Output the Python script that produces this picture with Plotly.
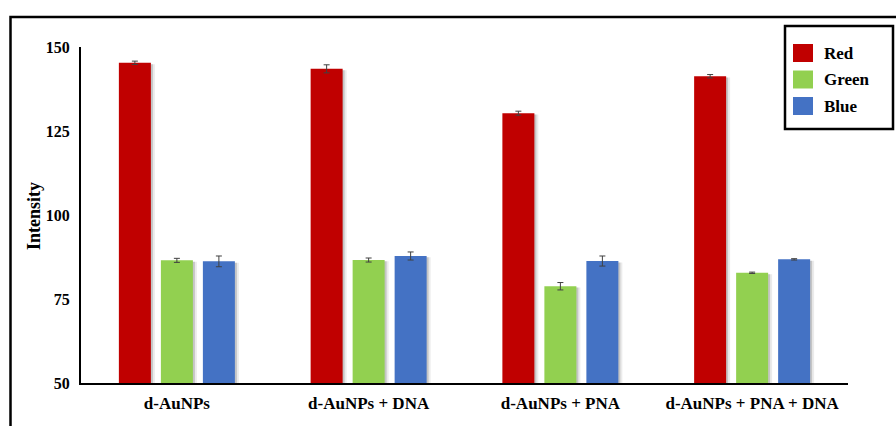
import plotly.graph_objects as go

# ---- data ----
categories = ["d-AuNPs", "d-AuNPs + DNA", "d-AuNPs + PNA", "d-AuNPs + PNA + DNA"]
series_names = ["Red", "Green", "Blue"]
red_values = [145.3, 143.5, 130.3, 141.3]
red_errors = [0.5, 1.2, 0.6, 0.5]
green_values = [86.5, 86.6, 78.8, 82.8]
green_errors = [0.6, 0.6, 1.1, 0.2]
blue_values = [86.2, 87.8, 86.3, 86.8]
blue_errors = [1.6, 1.2, 1.5, 0.2]
y_ticks = [50, 75, 100, 125, 150]

colors = ["#C00000", "#92D050", "#4472C4"]
values = [red_values, green_values, blue_values]
errors = [red_errors, green_errors, blue_errors]

# ---- layout geometry ----
W, H = 896, 426
ML, MR, MT, MB = 81, 48, 47, 43
PW, PH = W - ML - MR, H - MT - MB
FONT = "Liberation Serif, Times New Roman, serif"


def px_x(x):
    return (x - ML) / PW


def px_y(y):
    return (H - MB - y) / PH


cat_px = PW / len(categories)
bar_w = 32 / cat_px
slot = 42 / cat_px
offsets = [(i - 1) * slot - bar_w / 2 for i in range(3)]

fig = go.Figure()

# soft drop shadows on the right side of each bar
for i in range(3):
    for dx, alpha in [(4, 0.08), (2, 0.16)]:
        fig.add_trace(go.Bar(
            x=categories, y=[v - 50 - 0.4 for v in values[i]], base=50,
            width=bar_w, offset=offsets[i] + dx / cat_px,
            marker=dict(color=f"rgba(0,0,0,{alpha})", line=dict(width=0)),
            showlegend=False, hoverinfo="skip",
        ))

for i in range(3):
    fig.add_trace(go.Bar(
        x=categories, y=[v - 50 for v in values[i]], base=50,
        name=series_names[i],
        width=bar_w, offset=offsets[i],
        marker=dict(color=colors[i], line=dict(width=0)),
        error_y=dict(type="data", array=errors[i], visible=True,
                     color="#404040", thickness=1, width=3),
        showlegend=False,
    ))

shapes = []
# outer frame (top and left edges)
shapes.append(dict(type="path", xref="paper", yref="paper",
                   path=f"M {px_x(10.5)} {px_y(H + 10)} L {px_x(10.5)} {px_y(17)} L {px_x(W + 10)} {px_y(17)}",
                   line=dict(color="black", width=2.5)))
# legend box
shapes.append(dict(type="rect", xref="paper", yref="paper",
                   x0=px_x(785), x1=px_x(893), y0=px_y(129), y1=px_y(26),
                   line=dict(color="black", width=2.5), fillcolor="white"))
annotations = []
for i, (name, col) in enumerate(zip(series_names, colors)):
    cy = 53 + i * 26.5
    shapes.append(dict(type="rect", xref="paper", yref="paper",
                       x0=px_x(793), x1=px_x(813), y0=px_y(cy + 9), y1=px_y(cy - 9),
                       line=dict(width=0), fillcolor=col))
    annotations.append(dict(xref="paper", yref="paper", x=px_x(822), y=px_y(cy),
                            xanchor="left", yanchor="middle", showarrow=False,
                            text=f"<b>{name}</b>",
                            font=dict(family=FONT, size=17, color="black")))

# y-axis title
annotations.append(dict(xref="paper", yref="paper", x=px_x(34), y=px_y(216),
                        xanchor="center", yanchor="middle", showarrow=False,
                        textangle=-90, text="<b>Intensity</b>",
                        font=dict(family=FONT, size=18, color="black")))

fig.update_layout(
    width=W, height=H,
    margin=dict(l=ML, r=MR, t=MT, b=MB),
    plot_bgcolor="white", paper_bgcolor="white",
    barmode="overlay",
    showlegend=False,
    shapes=shapes,
    annotations=annotations,
    font=dict(family=FONT, color="black"),
)
fig.update_xaxes(
    showline=True, linecolor="black", linewidth=2,
    showgrid=False, ticks="outside", ticklen=4, tickcolor="rgba(0,0,0,0)",
    automargin=False,
    tickfont=dict(family=FONT, size=17, color="black", weight="bold"),
)
fig.update_yaxes(
    range=[50, 150], tickvals=y_ticks,
    showline=True, linecolor="black", linewidth=2,
    showgrid=False, zeroline=False, ticks="outside", ticklen=6,
    tickcolor="rgba(0,0,0,0)", automargin=False,
    tickfont=dict(family=FONT, size=16, color="black", weight="bold"),
)

fig.write_html("out.html")
